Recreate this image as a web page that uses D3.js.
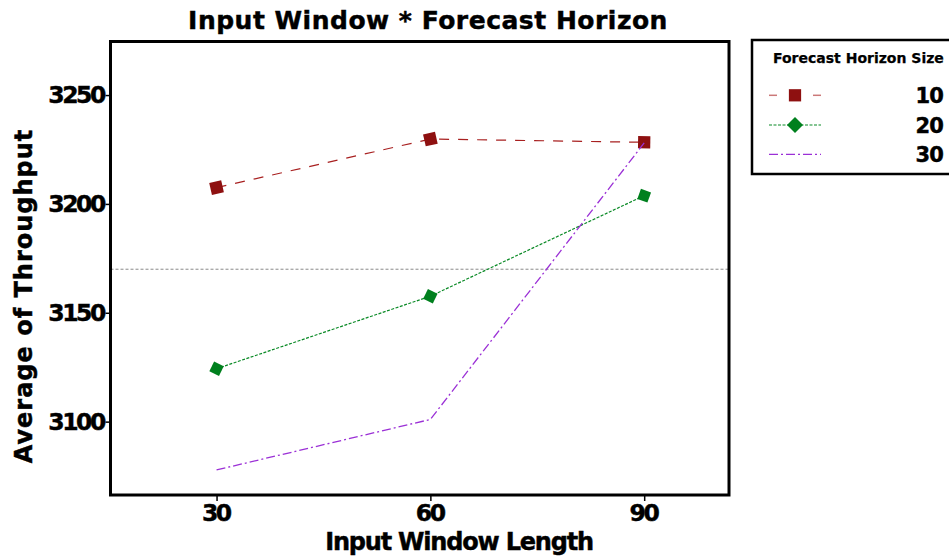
<!DOCTYPE html>
<html>
<head>
<meta charset="utf-8">
<script src="https://cdn.jsdelivr.net/npm/d3@7"></script>
<style>
  html, body { margin: 0; padding: 0; background: #fff; }
  svg { display: block; font-family: "DejaVu Sans", sans-serif; }
  svg text { stroke: #000; stroke-width: 0.45px; paint-order: fill; }
</style>
</head>
<body>
<svg id="chart" width="949" height="556"></svg>
<script>
// Input window lengths on the x axis
const windowLengths = [30, 60, 90];
// Forecast horizon sizes (one line per horizon)
const horizons = ["10", "20", "30"];
// Mean throughput per horizon, in window order 30 / 60 / 90
const throughput10 = [3207.5, 3229.8, 3228.3];
const throughput20 = [3124.3, 3157.6, 3203.8];
const throughput30 = [3077.8, 3101.0, 3228.0];
// Grand mean reference line
const grandMean = 3170;
// Axis ticks
const yTicks = [3100, 3150, 3200, 3250];
const xTicks = [30, 60, 90];

const seriesValues = [throughput10, throughput20, throughput30];
const styles = [
  { line: "#a82020", marker: "#8e1010", dash: "10,9", shape: "square", width: 1.2 },
  { line: "#0a8a26", marker: "#00801e", dash: "3,1.5", shape: "diamond", width: 1.2 },
  { line: "#9b30d6", marker: null, dash: "9,3,2,3", shape: null, width: 1.3 }
];

const svg = d3.select("#chart");
const plot = { left: 110.5, top: 41.5, right: 729, bottom: 495 };

const x = d3.scaleLinear().domain([15.05, 101.9]).range([110, plot.right]);
const y = d3.scaleLinear().domain([3066.3, 3274.6]).range([plot.bottom, plot.top]);

// Title
svg.append("text")
  .attr("x", 428).attr("y", 29)
  .attr("text-anchor", "middle")
  .attr("font-size", 25).attr("font-weight", "bold")
  .attr("letter-spacing", 0.5)
  .text("Input Window * Forecast Horizon");

// Axes
const yAxis = svg.append("g")
  .attr("transform", `translate(${plot.left},0)`)
  .call(d3.axisLeft(y).tickValues(yTicks).tickSize(5).tickPadding(0).tickFormat(d3.format("d")));
yAxis.select(".domain").remove();
yAxis.selectAll(".tick line").attr("stroke", "#000").attr("stroke-width", 1.5);
yAxis.selectAll(".tick text")
  .attr("font-family", "DejaVu Sans").attr("font-size", 23.5).attr("font-weight", "bold")
  .attr("letter-spacing", -2.4).attr("dx", -1.5).attr("fill", "#000");

const xAxis = svg.append("g")
  .attr("transform", `translate(0,${plot.bottom})`)
  .call(d3.axisBottom(x).tickValues(xTicks).tickSize(6).tickPadding(3).tickFormat(d3.format("d")));
xAxis.select(".domain").remove();
xAxis.selectAll(".tick line").attr("stroke", "#000").attr("stroke-width", 1.5);
xAxis.selectAll(".tick text")
  .attr("font-family", "DejaVu Sans").attr("font-size", 23.5).attr("font-weight", "bold")
  .attr("letter-spacing", -2.4).attr("dx", -1.2).attr("fill", "#000");

// Axis titles
svg.append("text")
  .attr("x", 459).attr("y", 550)
  .attr("text-anchor", "middle")
  .attr("font-size", 24).attr("font-weight", "bold")
  .attr("letter-spacing", -1.2)
  .text("Input Window Length");

svg.append("text")
  .attr("transform", "translate(32,296) rotate(-90)")
  .attr("text-anchor", "middle")
  .attr("font-size", 24).attr("font-weight", "bold")
  .attr("letter-spacing", 1)
  .text("Average of Throughput");

// Grand mean reference line
svg.append("line")
  .attr("x1", plot.left).attr("x2", plot.right)
  .attr("y1", y(grandMean)).attr("y2", y(grandMean))
  .attr("stroke", "#8a8a8a").attr("stroke-width", 1)
  .attr("stroke-dasharray", "3,2");

// Marker symbols
const squarePath = d3.symbol().type(d3.symbolSquare).size(150)();
const diamondPath = "M0,-7.6L7.6,0L0,7.6L-7.6,0Z";

const lineGen = d3.line()
  .x((d, i) => x(windowLengths[i]))
  .y(d => y(d));

seriesValues.forEach((vals, s) => {
  const st = styles[s];
  svg.append("path")
    .attr("d", lineGen(vals))
    .attr("fill", "none")
    .attr("stroke", st.line)
    .attr("stroke-width", st.width)
    .attr("stroke-dasharray", st.dash);

  if (st.shape) {
    const pts = vals.map((v, i) => [x(windowLengths[i]), y(v)]);
    pts.forEach((p, i) => {
      // orient each marker along its adjoining segment
      const a = i === 0 ? pts[0] : pts[i - 1];
      const b = i === 0 ? pts[1] : pts[i];
      const ang = Math.atan2(b[1] - a[1], b[0] - a[0]) * 180 / Math.PI;
      svg.append("path")
        .attr("d", st.shape === "square" ? squarePath : diamondPath)
        .attr("transform", `translate(${p[0]},${p[1]}) rotate(${ang})`)
        .attr("fill", st.marker);
    });
  }
});

// Plot frame
svg.append("rect")
  .attr("x", plot.left).attr("y", plot.top)
  .attr("width", plot.right - plot.left).attr("height", plot.bottom - plot.top)
  .attr("fill", "none").attr("stroke", "#000").attr("stroke-width", 3);

// Legend
const lg = svg.append("g");
lg.append("rect")
  .attr("x", 752).attr("y", 40).attr("width", 210).attr("height", 134)
  .attr("fill", "#fff").attr("stroke", "#000").attr("stroke-width", 2.5);
lg.append("text")
  .attr("x", 773).attr("y", 63)
  .attr("font-size", 14).attr("font-weight", "bold")
  .style("stroke-width", "0.25px")
  .text("Forecast Horizon Size");

const rowY = [95.3, 125, 154.3];
horizons.forEach((h, i) => {
  const st = styles[i];
  const ry = rowY[i];
  if (st.shape === "square") {
    lg.append("line").attr("x1", 769).attr("x2", 777).attr("y1", ry).attr("y2", ry)
      .attr("stroke", st.line).attr("stroke-opacity", 0.6).attr("stroke-width", 1.5);
    lg.append("line").attr("x1", 813).attr("x2", 821).attr("y1", ry).attr("y2", ry)
      .attr("stroke", st.line).attr("stroke-opacity", 0.6).attr("stroke-width", 1.5);
    lg.append("path").attr("d", squarePath)
      .attr("transform", `translate(795,${ry})`).attr("fill", st.marker);
  } else if (st.shape === "diamond") {
    lg.append("line").attr("x1", 769).attr("x2", 821).attr("y1", ry).attr("y2", ry)
      .attr("stroke", st.line).attr("stroke-width", 1.2).attr("stroke-dasharray", "3,1.5");
    lg.append("path").attr("d", "M0,-8L8,0L0,8L-8,0Z")
      .attr("transform", `translate(795,${ry})`).attr("fill", st.marker);
  } else {
    lg.append("line").attr("x1", 769).attr("x2", 821).attr("y1", ry).attr("y2", ry)
      .attr("stroke", st.line).attr("stroke-width", 1.3).attr("stroke-dasharray", "9,3,2,3");
  }
  lg.append("text")
    .attr("x", 943).attr("y", ry + 7.5)
    .attr("text-anchor", "end")
    .attr("font-size", 21).attr("font-weight", "bold")
    .attr("letter-spacing", -0.8)
    .text(h);
});
</script>
</body>
</html>
